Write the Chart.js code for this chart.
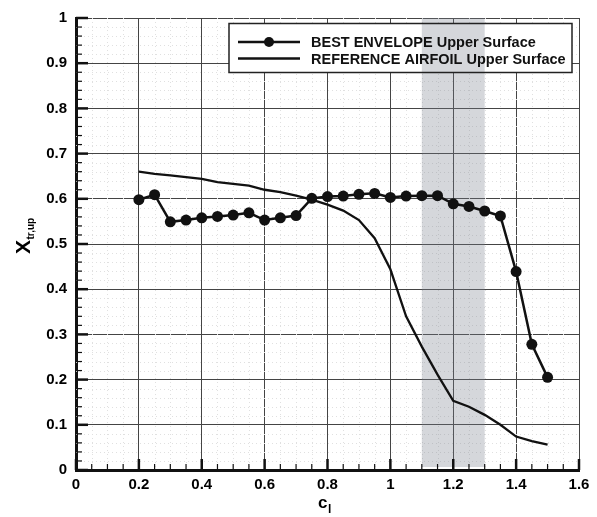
<!DOCTYPE html>
<html>
<head>
<meta charset="utf-8">
<script src="https://cdn.jsdelivr.net/npm/chart.js@4.4.0/dist/chart.umd.min.js"></script>
<style>
    html, body { margin: 0; padding: 0; background: #fff; }
    #wrap { width: 597px; height: 517px; }
</style>
</head>
<body>
<div id="wrap"><canvas id="transitionChart"></canvas></div>
<script>
        // data
        const clValues = [0.2, 0.25, 0.3, 0.35, 0.4, 0.45, 0.5, 0.55, 0.6, 0.65, 0.7, 0.75, 0.8, 0.85,
                          0.9, 0.95, 1.0, 1.05, 1.1, 1.15, 1.2, 1.25, 1.3, 1.35, 1.4, 1.45, 1.5];
        const bestEnvelope = [0.598, 0.609, 0.549, 0.553, 0.558, 0.561, 0.564, 0.569, 0.553, 0.558, 0.563, 0.601, 0.605, 0.606,
                              0.610, 0.612, 0.603, 0.606, 0.607, 0.607, 0.589, 0.583, 0.573, 0.562, 0.439, 0.278, 0.205];
        const referenceAirfoil = [0.660, 0.655, 0.652, 0.648, 0.644, 0.637, 0.633, 0.629, 0.620, 0.615, 0.607, 0.598, 0.587, 0.574,
                                  0.553, 0.513, 0.444, 0.340, 0.273, 0.211, 0.153, 0.140, 0.122, 0.100, 0.074, 0.064, 0.056];
        const seriesLabels = ['BEST ENVELOPE Upper Surface', 'REFERENCE AIRFOIL Upper Surface'];
        const bandRange = [1.1, 1.3];
        const xRange = [0, 1.6];
        const yRange = [0, 1];
        const xMajorStep = 0.2, xMinorStep = 0.05;
        const yMajorStep = 0.1, yMinorStep = 0.02;

        const FONT = "'Liberation Sans', Arial, sans-serif";
        Chart.defaults.font.family = FONT;
        Chart.defaults.color = '#000';

        function isMajor(v, step) {
            const r = v / step;
            return Math.abs(r - Math.round(r)) < 1e-6;
        }

        // library draws only the major grid, minors are dotted in the plugin
        function gridColor(step) {
            return (c) => (c.tick && isMajor(c.tick.value, step)) ? '#444' : 'rgba(0,0,0,0)';
        }

        const decorPlugin = {
            id: 'decor',
            beforeDatasetsDraw(chart) {
                const { ctx, chartArea: a, scales: { x, y } } = chart;
                ctx.save();

                // dotted minor grid
                ctx.strokeStyle = '#e0e0e0';
                ctx.lineWidth = 1;
                ctx.setLineDash([1, 3]);
                x.ticks.forEach(t => {
                    if (isMajor(t.value, xMajorStep)) return;
                    const px = Math.round(x.getPixelForValue(t.value)) + 0.5;
                    ctx.beginPath();
                    ctx.moveTo(px, a.top);
                    ctx.lineTo(px, a.bottom);
                    ctx.stroke();
                });
                y.ticks.forEach(t => {
                    if (isMajor(t.value, yMajorStep)) return;
                    const py = Math.round(y.getPixelForValue(t.value)) + 0.5;
                    ctx.beginPath();
                    ctx.moveTo(a.left, py);
                    ctx.lineTo(a.right, py);
                    ctx.stroke();
                });
                ctx.setLineDash([]);

                // legend background
                const boxL = a.left + 153, boxT = a.top + 5.5, boxW = 343, boxH = 49;
                ctx.fillStyle = '#fff';
                ctx.fillRect(boxL, boxT, boxW, boxH);

                // grey band
                const bx1 = x.getPixelForValue(bandRange[0]);
                const bx2 = x.getPixelForValue(bandRange[1]);
                ctx.fillStyle = 'rgba(120, 126, 140, 0.31)';
                ctx.fillRect(bx1, a.top, bx2 - bx1, a.bottom - a.top - 3);

                ctx.strokeStyle = '#222';
                ctx.lineWidth = 1.5;
                ctx.strokeRect(boxL, boxT, boxW, boxH);

                // legend rows
                chart.data.datasets.forEach((ds, i) => {
                    const ry = boxT + 18.5 + i * 16.6;
                    ctx.strokeStyle = '#111';
                    ctx.lineWidth = 2.5;
                    ctx.beginPath();
                    ctx.moveTo(boxL + 9, ry);
                    ctx.lineTo(boxL + 71, ry);
                    ctx.stroke();
                    if (ds.pointRadius > 0) {
                        ctx.fillStyle = '#111';
                        ctx.beginPath();
                        ctx.arc(boxL + 40, ry, 5, 0, Math.PI * 2);
                        ctx.fill();
                    }
                    ctx.fillStyle = '#111';
                    ctx.font = 'bold 14.5px ' + FONT;
                    ctx.textBaseline = 'middle';
                    ctx.textAlign = 'left';
                    ctx.fillText(ds.label, boxL + 82, ry + 1);
                });
                ctx.restore();
            },
            afterDraw(chart) {
                const { ctx, chartArea: a, scales: { x, y } } = chart;
                ctx.save();
                ctx.strokeStyle = '#111';

                // inward ticks
                x.ticks.forEach(t => {
                    const px = x.getPixelForValue(t.value);
                    const major = isMajor(t.value, xMajorStep);
                    ctx.lineWidth = major ? 2.5 : 1.2;
                    ctx.beginPath();
                    ctx.moveTo(px, a.bottom);
                    ctx.lineTo(px, a.bottom - (major ? 11 : 6));
                    ctx.stroke();
                });
                y.ticks.forEach(t => {
                    const py = y.getPixelForValue(t.value);
                    const major = isMajor(t.value, yMajorStep);
                    ctx.lineWidth = major ? 2.5 : 1.2;
                    ctx.beginPath();
                    ctx.moveTo(a.left, py);
                    ctx.lineTo(a.left + (major ? 12 : 6), py);
                    ctx.stroke();
                });

                // axis titles with subscripts
                ctx.fillStyle = '#000';
                ctx.textAlign = 'left';
                ctx.textBaseline = 'alphabetic';
                ctx.font = 'bold 17px ' + FONT;
                const cw = ctx.measureText('c').width;
                ctx.fillText('c', 318, 508);
                ctx.font = 'bold 12px ' + FONT;
                ctx.fillText('l', 318 + cw + 0.5, 513);

                ctx.translate(30, 254);
                ctx.rotate(-Math.PI / 2);
                ctx.font = 'bold 21px ' + FONT;
                const xw = ctx.measureText('X').width;
                ctx.fillText('X', 0, 0);
                ctx.font = 'bold 10px ' + FONT;
                ctx.fillText('tr,up', xw + 0.5, 4);
                ctx.restore();
            }
        };

        const ctx = document.getElementById('transitionChart');
        new Chart(ctx, {
            type: 'scatter',
            data: {
                datasets: [{
                    label: seriesLabels[0],
                    data: clValues.map((c, i) => ({ x: c, y: bestEnvelope[i] })),
                    showLine: true,
                    borderColor: '#111',
                    backgroundColor: '#111',
                    borderWidth: 2.5,
                    pointRadius: 5.5,
                    pointBackgroundColor: '#111',
                    pointBorderWidth: 0,
                    tension: 0
                }, {
                    label: seriesLabels[1],
                    data: clValues.map((c, i) => ({ x: c, y: referenceAirfoil[i] })),
                    showLine: true,
                    borderColor: '#111',
                    borderWidth: 2.3,
                    pointRadius: 0,
                    tension: 0
                }]
            },
            options: {
                responsive: true,
                maintainAspectRatio: false,
                animation: false,
                layout: { padding: { left: 0, top: 12, right: 18, bottom: 0 } },
                plugins: {
                    legend: { display: false },
                    tooltip: { enabled: false }
                },
                scales: {
                    x: {
                        type: 'linear',
                        min: xRange[0],
                        max: xRange[1],
                        afterFit: (s) => { s.height = 47; },
                        ticks: {
                            stepSize: xMinorStep,
                            autoSkip: false,
                            maxRotation: 0,
                            padding: 6,
                            font: { size: 15, weight: 'bold' },
                            callback: (v) => isMajor(v, xMajorStep) ? String(Math.round(v * 10) / 10) : ''
                        },
                        grid: {
                            drawTicks: false,
                            color: gridColor(xMajorStep),
                            lineWidth: 1
                        },
                        border: { display: true, color: '#111', width: 3 }
                    },
                    y: {
                        type: 'linear',
                        min: yRange[0],
                        max: yRange[1],
                        afterFit: (s) => { s.width = 76; },
                        ticks: {
                            stepSize: yMinorStep,
                            autoSkip: false,
                            padding: 9,
                            font: { size: 15, weight: 'bold' },
                            callback: (v) => isMajor(v, yMajorStep) ? String(Math.round(v * 10) / 10) : ''
                        },
                        grid: {
                            drawTicks: false,
                            color: gridColor(yMajorStep),
                            lineWidth: 1
                        },
                        border: { display: true, color: '#111', width: 3 }
                    }
                }
            },
            plugins: [decorPlugin]
        });
</script>
</body>
</html>
